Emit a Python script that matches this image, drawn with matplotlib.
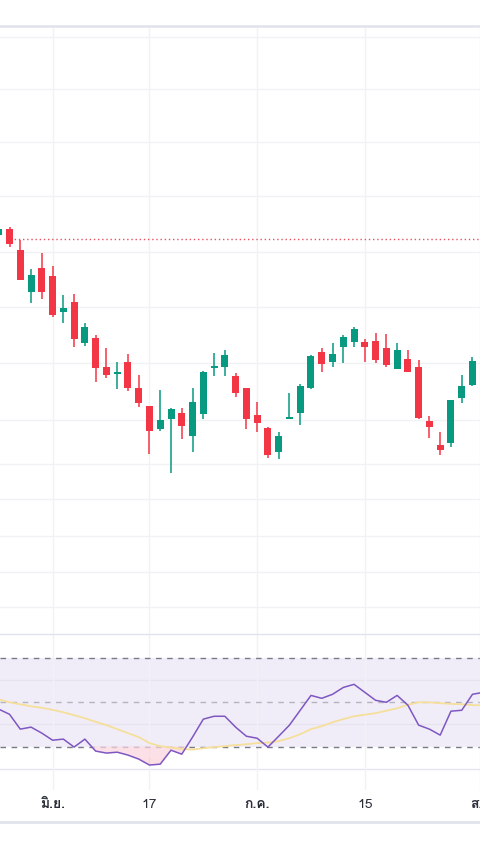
import numpy as np
import matplotlib
matplotlib.use("Agg")
import matplotlib.pyplot as plt
from matplotlib import font_manager
from matplotlib.ft2font import FT2Font
import matplotlib.transforms as mtransforms

# candles (index -1 is the one cut by the left edge)
opens  = [17.98, 18.10, 17.68, 16.84, 17.32, 17.16, 16.44, 16.64, 15.82, 15.92, 15.34,
          15.20, 15.44, 14.92, 14.56, 14.10, 14.30, 14.42, 13.96, 14.40, 15.32, 15.34,
          15.16, 14.92, 14.38, 14.12, 13.64, 14.30, 14.42, 14.92, 15.64, 15.44, 15.74,
          15.84, 15.84, 15.86, 15.72, 15.30, 15.50, 15.34, 14.26, 13.78, 13.82, 14.72, 14.98]
highs  = [18.14, 18.14, 17.88, 17.30, 17.62, 17.36, 16.78, 16.80, 16.22, 15.98, 15.72,
          15.44, 15.60, 15.18, 14.56, 14.88, 14.52, 14.52, 14.92, 15.26, 15.62, 15.68,
          15.22, 14.92, 14.64, 14.14, 14.04, 14.82, 15.00, 15.58, 15.72, 15.82, 15.98,
          16.14, 15.90, 16.02, 16.00, 15.82, 15.68, 15.48, 14.36, 14.04, 14.68, 15.18, 15.54]
lows   = [17.94, 17.74, 17.08, 16.62, 16.70, 16.34, 16.22, 15.74, 15.76, 15.04, 15.12,
          14.90, 14.86, 14.54, 13.60, 14.06, 13.22, 13.90, 13.64, 14.30, 15.16, 15.16,
          14.74, 14.10, 14.04, 13.52, 13.50, 14.30, 14.18, 14.90, 15.24, 15.34, 15.42,
          15.74, 15.44, 15.42, 15.34, 15.30, 15.24, 14.30, 13.92, 13.58, 13.74, 14.62, 14.96]
closes = [18.10, 17.80, 17.08, 17.18, 16.84, 16.38, 16.52, 15.90, 16.14, 15.32, 15.18,
          15.24, 14.92, 14.62, 14.06, 14.28, 14.50, 14.16, 14.64, 15.24, 15.36, 15.58,
          14.82, 14.30, 14.22, 13.58, 13.96, 14.34, 14.96, 15.56, 15.40, 15.60, 15.94,
          16.10, 15.74, 15.48, 15.38, 15.68, 15.24, 14.32, 14.14, 13.68, 14.68, 14.96, 15.46]
last_price = 17.90

# RSI(14) and its moving average, index -1 .. 44
rsi    = [46.9, 44.6, 37.9, 38.8, 36.1, 32.9, 33.4, 29.8, 33.4, 28.0, 27.1, 27.5, 26.2,
          24.4, 21.7, 22.1, 28.4, 26.6, 34.3, 42.4, 43.7, 43.7, 38.8, 34.7, 33.8, 29.8,
          34.7, 39.7, 46.4, 53.1, 51.8, 53.6, 56.7, 58.1, 54.5, 50.9, 50.0, 53.1, 48.7,
          39.7, 37.9, 35.2, 46.0, 46.4, 53.6, 54.5]
rsi_ma = [51.3, 50.0, 49.1, 48.2, 47.5, 46.6, 45.5, 44.2, 42.8, 41.2, 39.7, 37.9, 36.1,
          34.3, 31.6, 30.2, 29.6, 28.9, 28.7, 29.3, 29.8, 30.2, 30.7, 31.1, 31.6, 31.8,
          32.5, 33.8, 35.6, 37.9, 39.2, 41.0, 42.4, 43.7, 44.4, 45.1, 46.2, 47.3, 48.9,
          50.0, 50.0, 49.6, 49.3, 49.1, 48.7, 48.7]

price_grid = [21.94, 20.90, 19.84, 18.76, 17.64, 16.54, 15.42, 14.28, 13.40, 12.70, 11.96, 11.24, 10.54]
tick_pos = [4, 13, 23, 33, 44]
tick_labels = ["มิ.ย.", "17", "ก.ค.", "15", "ส.ค."]
tick_bold = [True, False, True, False, True]


def thai_font():
    for f in font_manager.fontManager.ttflist:
        try:
            if 0x0E21 in FT2Font(f.fname).get_charmap():
                return f.name
        except Exception:
            pass
    return "DejaVu Sans"

tf = thai_font()
plt.rcParams["font.family"] = [tf, "DejaVu Sans"]

UP = "#089981"
DOWN = "#F23645"
GRID = "#F0F2F6"
BORDER = "#E0E3EB"

W, H = 480, 856
fig = plt.figure(figsize=(4.8, 8.56), dpi=100)
fig.patch.set_facecolor("white")

def px_axes(top, bottom, right=479.5):
    return fig.add_axes([0, (H - bottom) / H, right / W, (bottom - top) / H])

ax = px_axes(26, 634)
ax2 = px_axes(634, 790)

xl = (-9.5 / 10.767, (479.5 - 9.5) / 10.767)
n = len(opens)
xc = np.arange(-1, n - 1)

# main pane
for g in price_grid:
    ax.axhline(g, color=GRID, lw=1, zorder=0)
for t in tick_pos[:-1]:
    ax.axvline(t, color=GRID, lw=1, zorder=0)
ax.hlines(last_price, 0, 50, colors="#E8505F", linestyles=(0, (1, 2)), lw=1.0, zorder=1)

o = np.array(opens); c = np.array(closes)
cols = [UP if cc >= oo else DOWN for oo, cc in zip(o, c)]
ax.vlines(xc, lows, highs, colors=cols, lw=1.1, zorder=2)
body = np.maximum(np.abs(c - o), 0.05)
ax.bar(xc, body, bottom=np.minimum(o, c), width=0.65, color=cols, zorder=3)

ax.set_xlim(xl)
ax.set_ylim(10.0, 22.16)
ax.set_xticks([]); ax.set_yticks([])
for s in ["left", "bottom"]:
    ax.spines[s].set_visible(False)
ax.spines["top"].set_color(BORDER); ax.spines["top"].set_linewidth(1.8)
ax.spines["right"].set_color(GRID); ax.spines["right"].set_linewidth(1)

# RSI pane
xr = np.arange(-1, len(rsi) - 1)
r = np.array(rsi)
ax2.axhspan(30, 70, color="#7E57C2", alpha=0.1, lw=0, zorder=0)
for g in [20, 40, 60]:
    ax2.axhline(g, color="#E6E3EE", lw=1, zorder=0)
for t in tick_pos[:-1]:
    ax2.axvline(t, color=GRID, lw=1, zorder=0)
ax2.axhline(70, color="#787B86", lw=1, ls=(0, (4, 4)), zorder=1)
ax2.axhline(30, color="#787B86", lw=1, ls=(0, (4, 4)), zorder=1)
ax2.axhline(50, color="#787B86", lw=1, ls=(0, (4, 4)), alpha=0.5, zorder=1)
ax2.fill_between(xr, r, 30, where=r < 30, interpolate=True, color="#F7A1B5", alpha=0.35, lw=0, zorder=1)
ax2.fill_between(xr, np.maximum(r, 25), 30, where=r < 30, interpolate=True, color="#FDE3EA", alpha=0.6, lw=0, zorder=1)
ax2.plot(xr, rsi_ma, color="#F5DF9A", lw=1.3, zorder=2)
ax2.plot(xr, rsi, color="#7E57C2", lw=1.1, zorder=3)
ax2.set_xlim(xl)
ax2.set_ylim(10.45, 80.8)
ax2.set_xticks([]); ax2.set_yticks([])
for s in ["top", "left", "bottom"]:
    ax2.spines[s].set_visible(False)
ax2.spines["top"].set_visible(True)
ax2.spines["top"].set_color(BORDER); ax2.spines["top"].set_linewidth(1)
ax2.spines["right"].set_color(GRID); ax2.spines["right"].set_linewidth(1)

# time scale
trans = mtransforms.blended_transform_factory(ax2.transData, fig.transFigure)
for p, lab, b in zip(tick_pos, tick_labels, tick_bold):
    ax2.text(p, (H - 805) / H, lab, transform=trans, ha="center", va="center",
             fontsize=10, color="#2A2E39", fontweight="bold" if b else "normal", clip_on=False)
fig.add_artist(plt.Line2D([0, 1], [(H - 822) / H] * 2, transform=fig.transFigure,
                          color=BORDER, lw=2))

fig.savefig("out.png", dpi=100, facecolor="white")
